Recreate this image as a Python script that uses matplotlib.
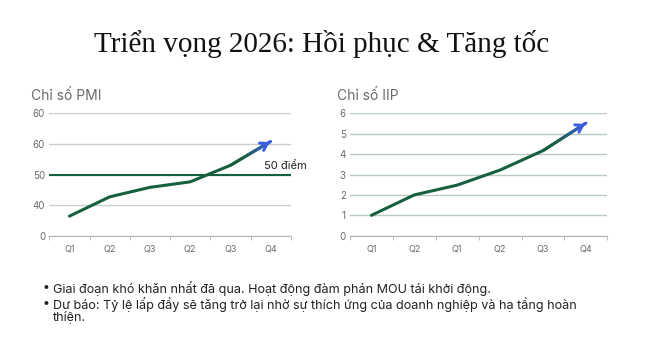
import numpy as np
import matplotlib
matplotlib.use("Agg")
import matplotlib.pyplot as plt
from matplotlib.colors import to_rgb


TITLE = "Triển vọng 2026: Hồi phục & Tăng tốc"

quarters_pmi = ["Q1", "Q2", "Q3", "Q2", "Q3", "Q4"]
# PMI axis is drawn with evenly spaced labels, values are in tick-slot units
pmi_ticklabels = ["0", "40", "50", "60", "60"]
pmi_values = [0.64, 1.27, 1.58, 1.76, 2.30, 3.08]
pmi_ref = 2.0
pmi_ref_label = "50 điểm"

quarters_iip = ["Q1", "Q2", "Q1", "Q2", "Q3", "Q4"]
iip_values = [1.0, 2.0, 2.48, 3.22, 4.17, 5.52]

bullet_lines = [
    ("•", "Giai đoạn khó khăn nhất đã qua. Hoạt động đàm phán MOU tái khởi động."),
    ("•", "Dự báo: Tỷ lệ lấp đầy sẽ tăng trở lại nhờ sự thích ứng của doanh nghiệp và hạ tầng hoàn"),
    ("", "thiện."),
]

GREEN = "#17603f"
BLUE = "#3a5ee0"
GRID = "#c9cfcc"
TXT = "#6b6b6b"

plt.rcParams["font.family"] = ["Inter", "DejaVu Sans"]


def draw_line(ax, values):
    x = np.arange(len(values))
    ax.plot(x[:-1], values[:-1], color=GREEN, lw=2.2, solid_capstyle="round", zorder=3)
    # last segment fades from green to blue
    n = 30
    c0 = np.array(to_rgb(GREEN))
    c1 = np.array(to_rgb(BLUE))
    xs = np.linspace(x[-2], x[-1], n + 1)
    ys = np.linspace(values[-2], values[-1], n + 1)
    for i in range(n):
        t = max(0.0, (i / n - 0.3) / 0.7)
        ax.plot(xs[i:i + 2], ys[i:i + 2], color=c0 + (c1 - c0) * t, lw=2.2,
                solid_capstyle="round", zorder=3)
    ax.annotate("", xy=(x[-1] + 0.03, values[-1] + 0.02), xytext=(xs[-4], ys[-4]),
                arrowprops=dict(arrowstyle="->,head_length=0.45,head_width=0.3",
                                color=BLUE, lw=2.2), zorder=4)


def style_axes(ax, cats):
    ax.set_xlim(-0.5, len(cats) - 0.5)
    ax.set_xticks(range(len(cats)))
    ax.set_xticklabels(cats)
    ax.set_xticks(np.arange(-0.5, len(cats)), minor=True)
    ax.tick_params(axis="x", which="major", length=0, labelsize=6.5, colors=TXT, pad=6)
    ax.tick_params(axis="x", which="minor", length=3, color="#b5b5b5")
    ax.tick_params(axis="y", length=0, labelsize=7, colors=TXT, pad=3)
    for s in ["top", "right", "left"]:
        ax.spines[s].set_visible(False)
    ax.spines["bottom"].set_color("#b5b5b5")
    ax.grid(axis="y", color=GRID, lw=1)
    ax.set_axisbelow(True)


fig = plt.figure(figsize=(6.49, 3.48), dpi=100)
fig.patch.set_facecolor("white")

fig.text(0.495, 0.8514, TITLE, ha="center", va="baseline", fontsize=21,
         family=["Liberation Serif", "DejaVu Serif"], color="#111111")

# PMI chart
ax1 = fig.add_axes([0.076, 0.3227, 0.372, 0.3517])
style_axes(ax1, quarters_pmi)
ax1.set_ylim(0, len(pmi_ticklabels) - 1)
ax1.set_yticks(range(len(pmi_ticklabels)))
ax1.set_yticklabels(pmi_ticklabels)
ax1.axhline(pmi_ref, color=GREEN, lw=1.5, zorder=2)
ax1.text(4.84, pmi_ref + 0.19, pmi_ref_label, fontsize=8, color="#222222", va="baseline")
draw_line(ax1, pmi_values)
fig.text(0.048, 0.725, "Chỉ số PMI", fontsize=10, color=TXT, va="center")

# IIP chart
ax2 = fig.add_axes([0.5393, 0.3227, 0.3965, 0.3517])
style_axes(ax2, quarters_iip)
ax2.set_ylim(0, 6)
ax2.set_yticks(range(7))
ax2.grid(axis="y", color="#b9cbc3", lw=1)
draw_line(ax2, iip_values)
fig.text(0.519, 0.725, "Chỉ số IIP", fontsize=10, color=TXT, va="center")

# notes
line_y = [0.1724, 0.1264, 0.0862]
for (mark, line), y in zip(bullet_lines, line_y):
    if mark:
        fig.text(0.066, y, mark, fontsize=9, color="#222222", va="center")
    fig.text(0.0817, y, line, fontsize=9.1, color="#222222", va="center")

fig.savefig("out.png", dpi=100, facecolor="white")
